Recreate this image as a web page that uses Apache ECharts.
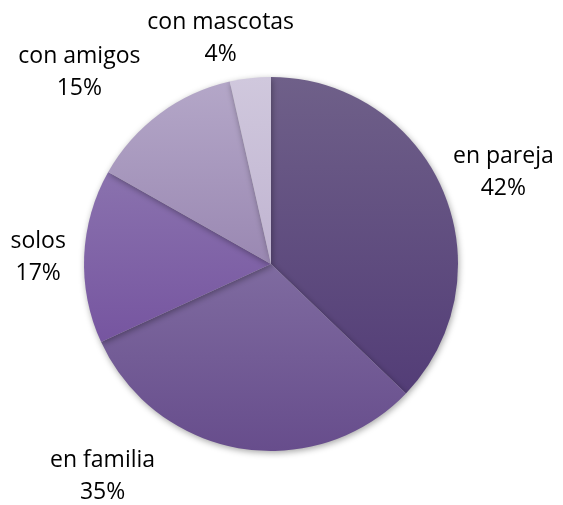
<!DOCTYPE html>
<html>
<head>
<meta charset="utf-8">
<script src="https://cdn.jsdelivr.net/npm/echarts@6/dist/echarts.min.js"></script>
<style>
  html, body { margin: 0; padding: 0; background: #ffffff; }
  #chart { width: 563px; height: 505px; }
</style>
</head>
<body>
<div id="chart"></div>
<script>
// Who people travel with
const categories = ['en pareja', 'en familia', 'solos', 'con amigos', 'con mascotas'];
const shares = [42, 35, 17, 15, 4];

// Slice fills: lighter at the top, darker at the bottom
const sliceTop = ['#6f6089', '#7f6ba0', '#8a72ae', '#b4a7c8', '#d0c8dd'];
const sliceBottom = ['#533d77', '#674d8c', '#7655a0', '#9a88b2', '#c0b4d1'];

// Pie geometry (pixels)
const CX = 271, CY = 264, RADIUS = 187, GAP = 10;
// Hand placement of each label relative to its outside-end spot
const labelNudge = [[-3, 9], [-129, -22], [-7, 3], [-37, 16], [-24, 10]];

const total = shares.reduce((a, b) => a + b, 0);
const midAngles = [];
let acc = 0;
shares.forEach(v => {
  midAngles.push((acc + v / 2) / total * Math.PI * 2);
  acc += v;
});

const chart = echarts.init(document.getElementById('chart'), null, { renderer: 'canvas' });

chart.setOption({
  backgroundColor: '#ffffff',
  animation: false,
  series: [{
    type: 'pie',
    center: [CX, CY],
    radius: RADIUS,
    startAngle: 90,
    clockwise: true,
    avoidLabelOverlap: false,
    data: categories.map((name, i) => ({
      name: name,
      value: shares[i],
      itemStyle: {
        color: new echarts.graphic.LinearGradient(0, 0, 0, 1, [
          { offset: 0, color: sliceTop[i] },
          { offset: 1, color: sliceBottom[i] }
        ])
      }
    })),
    itemStyle: {
      borderWidth: 0,
      shadowBlur: 6,
      shadowOffsetX: 1,
      shadowOffsetY: 2,
      shadowColor: 'rgba(0,0,0,0.35)'
    },
    label: {
      show: true,
      position: 'outside',
      formatter: '{b}\n{c}%',
      fontFamily: '"Open Sans", sans-serif',
      fontSize: 23,
      lineHeight: 32,
      color: '#000000'
    },
    labelLine: { show: false },
    emphasis: { disabled: true },
    labelLayout: function (p) {
      const i = p.dataIndex;
      const a = midAngles[i];
      const dx = Math.sin(a), dy = -Math.cos(a);
      const w = p.labelRect.width, h = p.labelRect.height;
      const d = RADIUS + GAP + Math.abs(dx) * w / 2 + Math.abs(dy) * h / 2;
      return {
        x: CX + d * dx + labelNudge[i][0],
        y: CY + d * dy + labelNudge[i][1],
        align: 'center',
        verticalAlign: 'middle'
      };
    }
  }]
});
</script>
</body>
</html>
